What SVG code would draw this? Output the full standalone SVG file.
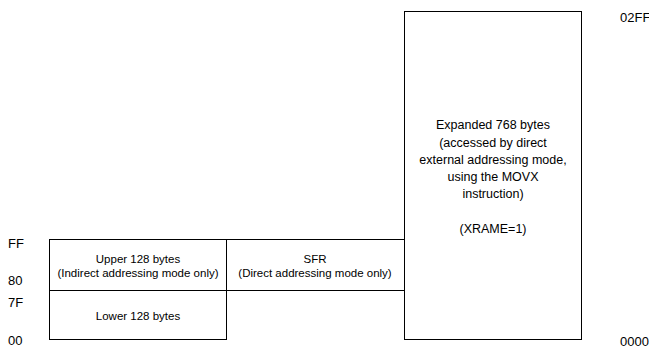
<svg xmlns="http://www.w3.org/2000/svg" width="649" height="348" viewBox="0 0 649 348">
<style>
.ln{stroke:#000;stroke-width:1;fill:none}
.ax{font-family:"Liberation Sans",Arial,sans-serif;font-size:13px;fill:#000}
.sm{font-family:"Liberation Sans",Arial,sans-serif;font-size:11.5px;fill:#000;text-anchor:middle}
.bg{font-family:"Liberation Sans",Arial,sans-serif;font-size:12.5px;fill:#000;text-anchor:middle}
</style>
<rect width="649" height="348" fill="#fff"/>
<g id="upper">
<rect class="ln" x="49.5" y="239.5" width="177" height="51"/>
<text class="sm" x="138" y="263">Upper 128 bytes</text>
<text class="sm" x="138" y="277">(Indirect addressing mode only)</text>
</g>
<g id="lower">
<rect class="ln" x="49.5" y="290.5" width="177" height="49"/>
<text class="sm" x="138" y="320">Lower 128 bytes</text>
</g>
<g id="sfr">
<path class="ln" d="M226.5 239.5H404.5M226.5 290.5H404.5"/>
<text class="sm" x="315" y="263">SFR</text>
<text class="sm" x="315" y="277">(Direct addressing mode only)</text>
</g>
<g id="expanded">
<rect class="ln" x="404.5" y="11.5" width="177" height="328"/>
<text class="bg" x="493" y="129">Expanded 768 bytes</text>
<text class="bg" x="493" y="147">(accessed by direct</text>
<text class="bg" x="493" y="164">external addressing mode,</text>
<text class="bg" x="493" y="181">using the MOVX</text>
<text class="bg" x="493" y="198">instruction)</text>
<text class="bg" x="493" y="233">(XRAME=1)</text>
</g>
<g id="labels">
<text class="ax" x="8" y="248">FF</text>
<text class="ax" x="8" y="285">80</text>
<text class="ax" x="8" y="307">7F</text>
<text class="ax" x="8" y="345">00</text>
<text class="ax" x="620" y="22">02FF</text>
<text class="ax" x="620" y="346">0000</text>
</g>
</svg>
